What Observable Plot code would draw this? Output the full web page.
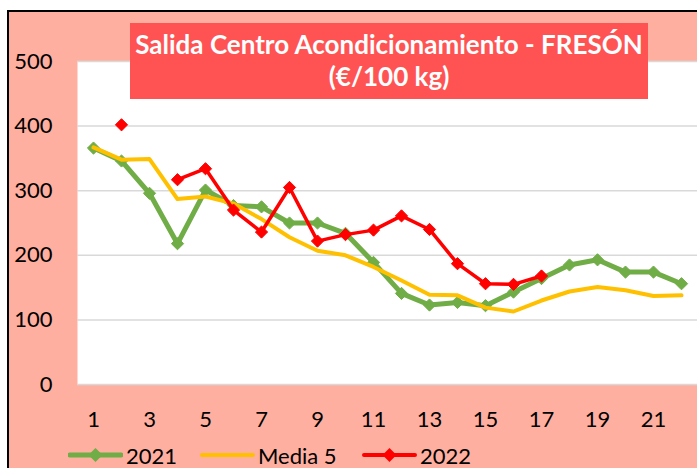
<!DOCTYPE html>
<html>
<head>
<meta charset="utf-8">
<script src="https://cdn.jsdelivr.net/npm/d3@7"></script>
<script src="https://cdn.jsdelivr.net/npm/@observablehq/plot@0.6"></script>
<style>
  html, body { margin: 0; padding: 0; background: #fff; }
  #wrap { position: relative; width: 697px; height: 468px; overflow: hidden; font-family: Lato, "Open Sans", sans-serif; }
  #bg { position: absolute; left: 7px; top: 10px; right: 0; bottom: 0; background: #FFAF9F; border-left: 2px solid #000; border-top: 2px solid #000; }
  #chart { position: absolute; left: 0; top: 0; }
  #title { position: absolute; left: 130px; top: 23px; width: 518px; height: 76px; background: #FF5353; color: #fff; font-weight: 700; font-size: 26px; line-height: 32px; text-align: center; padding-top: 5px; box-sizing: border-box; }
  .leg { position: absolute; top: 442px; height: 26px; display: flex; align-items: center; font-size: 22px; color: #000; }
  .leg svg { margin-right: 3px; }
</style>
</head>
<body>
<div id="wrap">
  <div id="bg"></div>
  <div id="chart"></div>
  <div id="title">Salida Centro Acondicionamiento - FRESÓN<br>(€/100 kg)</div>
  <div id="legend"></div>
</div>
<script>
// Data
const weeks = d3.range(1, 23);
const serie2021 = [366, 346, 296, 218, 301, 277, 275, 250, 250, 234, 189, 141, 123, 127, 122, 143, 164, 185, 193, 174, 174, 156];
const media5    = [367, 348, 349, 287, 291, 280, 256, 228, 207, 200, 182, 161, 139, 138, 119, 113, 130, 144, 151, 146, 137, 138];
const serie2022 = [null, 402, null, 317, 334, 270, 236, 305, 222, 232, 239, 261, 240, 187, 156, 155, 168, null, null, null, null, null];
const xTickLabels = [1, 3, 5, 7, 9, 11, 13, 15, 17, 19, 21];
const yTickLabels = [0, 100, 200, 300, 400, 500];
const seriesNames = ["2021", "Media 5", "2022"];
const seriesColors = ["#70AD47", "#FFC000", "#FF0000"];

const toRows = (vals, name) => weeks.map((w, i) => ({week: w, value: vals[i] == null ? NaN : vals[i], serie: name}));
const d2021 = toRows(serie2021, seriesNames[0]);
const dMedia = toRows(media5, seriesNames[1]);
const d2022 = toRows(serie2022, seriesNames[2]);

const chart = Plot.plot({
  width: 697,
  height: 468,
  marginLeft: 77,
  marginRight: 0,
  marginTop: 61,
  marginBottom: 84,
  style: {background: "transparent", fontFamily: "Lato, 'Open Sans', sans-serif", fontSize: "22px", color: "#000"},
  x: {type: "point", domain: weeks, padding: 0.5},
  y: {domain: [0, 500]},
  marks: [
    Plot.frame({fill: "#fff", stroke: "none"}),
    Plot.gridY(yTickLabels, {stroke: "#D9D9D9", strokeOpacity: 1, strokeWidth: 1.5}),
    Plot.axisY(yTickLabels, {tickSize: 0, tickPadding: 25, label: null, fontSize: 22}),
    Plot.axisX(xTickLabels, {tickSize: 0, tickPadding: 27, label: null, fontSize: 22}),
    Plot.line(d2021, {x: "week", y: "value", stroke: seriesColors[0], strokeWidth: 5}),
    Plot.dot(d2021, {x: "week", y: "value", symbol: "diamond2", r: 5.5, fill: seriesColors[0], stroke: seriesColors[0], strokeWidth: 1}),
    Plot.line(dMedia, {x: "week", y: "value", stroke: seriesColors[1], strokeWidth: 4}),
    Plot.line(d2022, {x: "week", y: "value", stroke: seriesColors[2], strokeWidth: 3.5}),
    Plot.dot(d2022, {x: "week", y: "value", symbol: "diamond2", r: 5.5, fill: seriesColors[2], stroke: seriesColors[2], strokeWidth: 1})
  ]
});
document.getElementById("chart").appendChild(chart);

// Legend
const legendPos = [68, 200, 362];
const hasMarker = [true, false, true];
const legendWidths = [5, 4, 4];
const leg = document.getElementById("legend");
seriesNames.forEach((name, i) => {
  const div = document.createElement("div");
  div.className = "leg";
  div.style.left = legendPos[i] + "px";
  const marker = hasMarker[i] ? `<path d="M27.5,6 L34.5,13 L27.5,20 L20.5,13 Z" fill="${seriesColors[i]}"/>` : "";
  div.innerHTML = `<svg width="55" height="26"><line x1="2" x2="53" y1="13" y2="13" stroke="${seriesColors[i]}" stroke-width="${legendWidths[i]}" stroke-linecap="round"/>${marker}</svg><span>${name}</span>`;
  leg.appendChild(div);
});
</script>
</body>
</html>
